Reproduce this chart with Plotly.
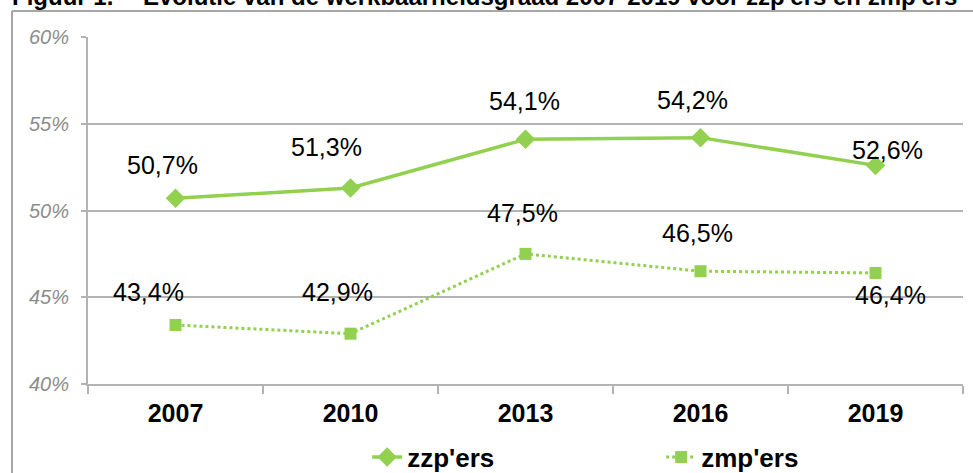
import plotly.graph_objects as go

years = ["2007", "2010", "2013", "2016", "2019"]
zzp = [50.7, 51.3, 54.1, 54.2, 52.6]
zmp = [43.4, 42.9, 47.5, 46.5, 46.4]
zzp_labels = ["50,7%", "51,3%", "54,1%", "54,2%", "52,6%"]
zmp_labels = ["43,4%", "42,9%", "47,5%", "46,5%", "46,4%"]

GREEN = "#92D050"
GRID = "#b3b3b3"
FONT = "Liberation Sans, Arial, sans-serif"

# label offsets in pixels (dx, dy), labels were hand-placed in the original
zzp_off = [(-13, 33), (-24, 41), (-1, 38), (-8, 38), (12, 15)]
zmp_off = [(-27, 33), (-13, 42), (-3, 41), (-3, 38), (15, -22)]

fig = go.Figure()
fig.add_trace(go.Scatter(
    x=years, y=zzp, name="zzp'ers", mode="lines+markers",
    line=dict(color=GREEN, width=3.5),
    marker=dict(symbol="diamond", size=15, color=GREEN),
))
fig.add_trace(go.Scatter(
    x=years, y=zmp, name="zmp'ers", mode="lines+markers",
    line=dict(color=GREEN, width=3, dash="dot"),
    marker=dict(symbol="square", size=12, color=GREEN),
))

for vals, labels, offs in [(zzp, zzp_labels, zzp_off), (zmp, zmp_labels, zmp_off)]:
    for i, (y, t, (dx, dy)) in enumerate(zip(vals, labels, offs)):
        # category index as x position
        fig.add_annotation(x=i, y=y, xref="x", yref="y", text=t, showarrow=False,
                           xshift=dx, yshift=dy,
                           font=dict(family=FONT, size=25, color="black"))

# title (cut off at top in the original)
fig.add_annotation(xref="paper", yref="paper", x=(10 - 88) / 875, y=(384 - 12) / 347,
                   xanchor="left", yanchor="bottom", showarrow=False,
                   text="<b>Figuur 1.</b>",
                   font=dict(family=FONT, size=24, color="black"))
fig.add_annotation(xref="paper", yref="paper", x=(141 - 88) / 875, y=(384 - 12) / 347,
                   xanchor="left", yanchor="bottom", showarrow=False,
                   text="<b>Evolutie van de werkbaarheidsgraad 2007-2019 voor zzp'ers en zmp'ers</b>",
                   font=dict(family=FONT, size=24, color="black"))

# outer frame
fig.add_shape(type="line", xref="paper", yref="paper",
              x0=(12 - 88) / 875, x1=1.2, y0=(384 - 11) / 347, y1=(384 - 11) / 347,
              line=dict(color="#a6a6a6", width=2))
fig.add_shape(type="line", xref="paper", yref="paper",
              x0=(12 - 88) / 875, x1=(12 - 88) / 875, y0=(384 - 11) / 347, y1=-0.4,
              line=dict(color="#a6a6a6", width=2))

fig.update_layout(
    width=973, height=473,
    margin=dict(l=88, r=10, t=37, b=89, autoexpand=False),
    paper_bgcolor="white", plot_bgcolor="white",
    font=dict(family=FONT),
    showlegend=True,
    legend=dict(orientation="h", x=0.319, xanchor="left",
                y=-(457 - 384) / 347, yanchor="middle",
                entrywidth=249, entrywidthmode="pixels",
                font=dict(family=FONT, size=26, color="black", weight="bold")),
    xaxis=dict(type="category", range=[-0.5, 4.5], showgrid=False, showline=True,
               linecolor=GRID, linewidth=2, ticks="outside", tickson="boundaries",
               ticklen=8, tickcolor=GRID, tickwidth=2,
               tickfont=dict(family=FONT, size=25, color="black", weight="bold"),
               ticklabelstandoff=6),
    yaxis=dict(range=[40, 60], dtick=5, ticksuffix="%", showgrid=True,
               gridcolor=GRID, gridwidth=2, showline=True, linecolor=GRID,
               linewidth=2, ticks="outside", ticklen=5, tickcolor=GRID, tickwidth=2,
               zeroline=False,
               tickfont=dict(family=FONT, size=20, color="#8c8c8c", style="italic"),
               ticklabelstandoff=8),
)

fig.write_html("out.html", config={"displayModeBar": False},
               post_script="document.body.style.margin='0px';")
